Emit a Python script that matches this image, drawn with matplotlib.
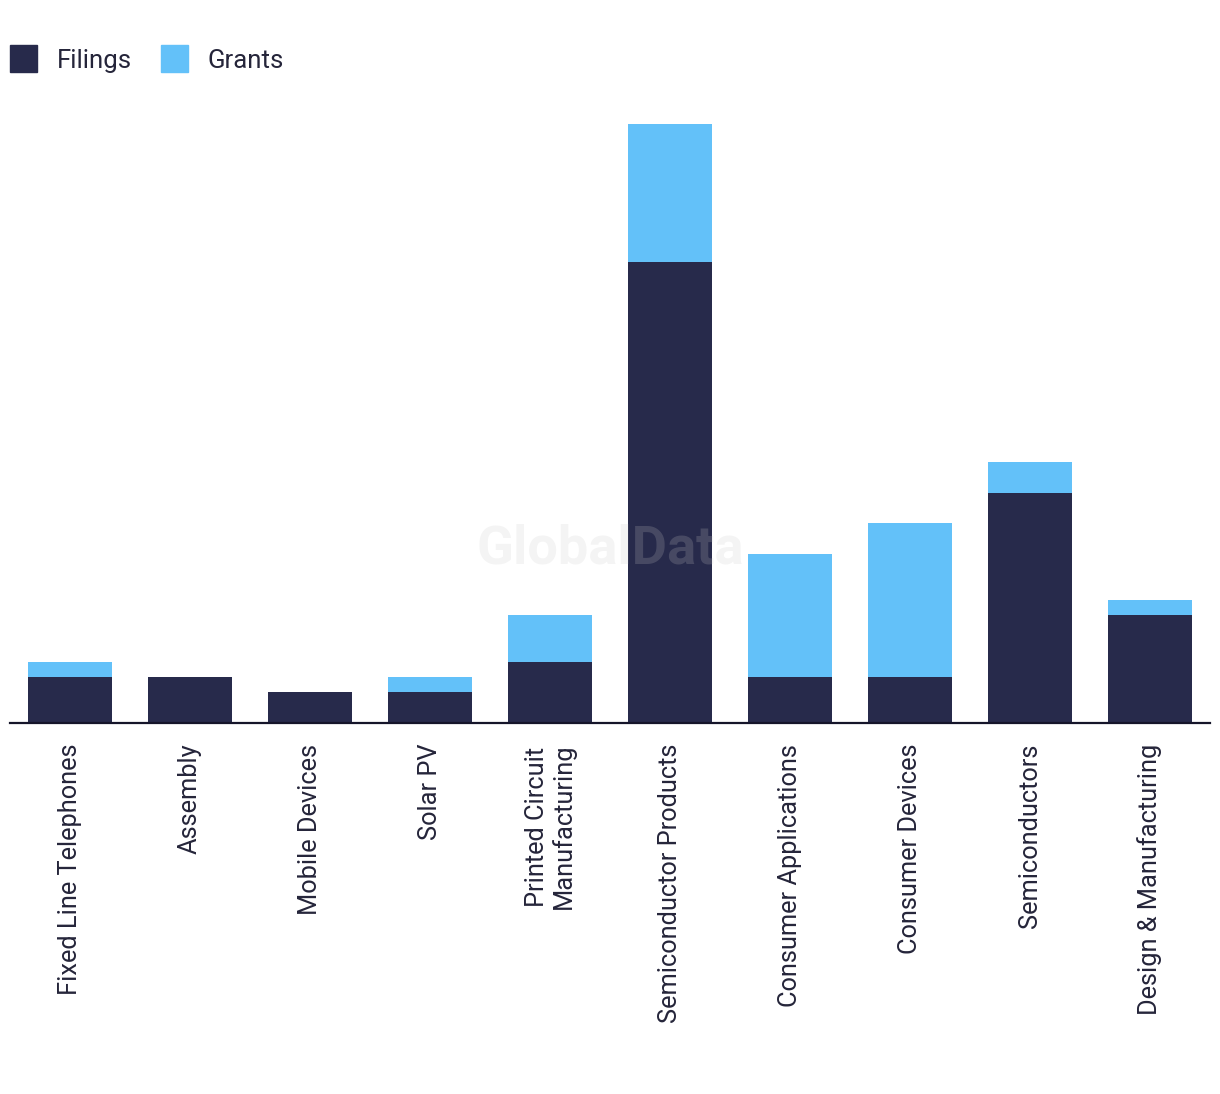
import numpy as np
import matplotlib.pyplot as plt
from matplotlib.patches import Patch

categories = ['Fixed Line Telephones', 'Assembly', 'Mobile Devices', 'Solar PV',
              'Printed Circuit\nManufacturing', 'Semiconductor Products',
              'Consumer Applications', 'Consumer Devices', 'Semiconductors',
              'Design & Manufacturing']
filings = [3, 3, 2, 2, 4, 30, 3, 3, 15, 7]
grants = [1, 0, 0, 1, 3, 9, 8, 10, 2, 1]

filingsColor = '#272a4b'
grantsColor = '#63c1f9'
textColor = '#25253a'

plt.rcParams['font.family'] = ['Roboto', 'DejaVu Sans']

fig = plt.figure(figsize=(12.2, 10.94), dpi=100)
ax = fig.add_axes([10/1220, 371/1094, 1200/1220, 614.4/1094])

x = np.arange(len(categories))
ax.bar(x, filings, width=0.7, color=filingsColor, zorder=2)
ax.bar(x, grants, width=0.7, bottom=filings, color=grantsColor, zorder=2)

ax.set_xlim(-0.5, len(categories) - 0.5)
ax.set_ylim(0, 40)
for side in ['top', 'right', 'left']:
	ax.spines[side].set_visible(False)
ax.spines['bottom'].set_color('#15152a')
ax.spines['bottom'].set_linewidth(1.6)
ax.set_yticks([])
ax.set_xticks(x)
ax.set_xticklabels(categories, rotation=90, fontsize=18.3, color=textColor,
                   va='top', ha='center', linespacing=1.1)
ax.tick_params(axis='x', length=0, pad=15)

# watermark
fig.text(610/1220, 1 - 549/1094, 'GlobalData', fontsize=39, fontweight='bold',
         color='#c8c8c8', alpha=0.2, ha='center', va='center', zorder=10)

handles = [Patch(color=filingsColor, label='Filings'), Patch(color=grantsColor, label='Grants')]
fig.legend(handles=handles, loc='upper left', bbox_to_anchor=(0.0, 1 - 35/1094), ncol=2,
           frameon=False, fontsize=18.5, handlelength=1.05, handleheight=1.25,
           handletextpad=0.75, columnspacing=1.15, labelcolor=textColor, borderaxespad=0.0)

fig.savefig('out.png', dpi=100)
